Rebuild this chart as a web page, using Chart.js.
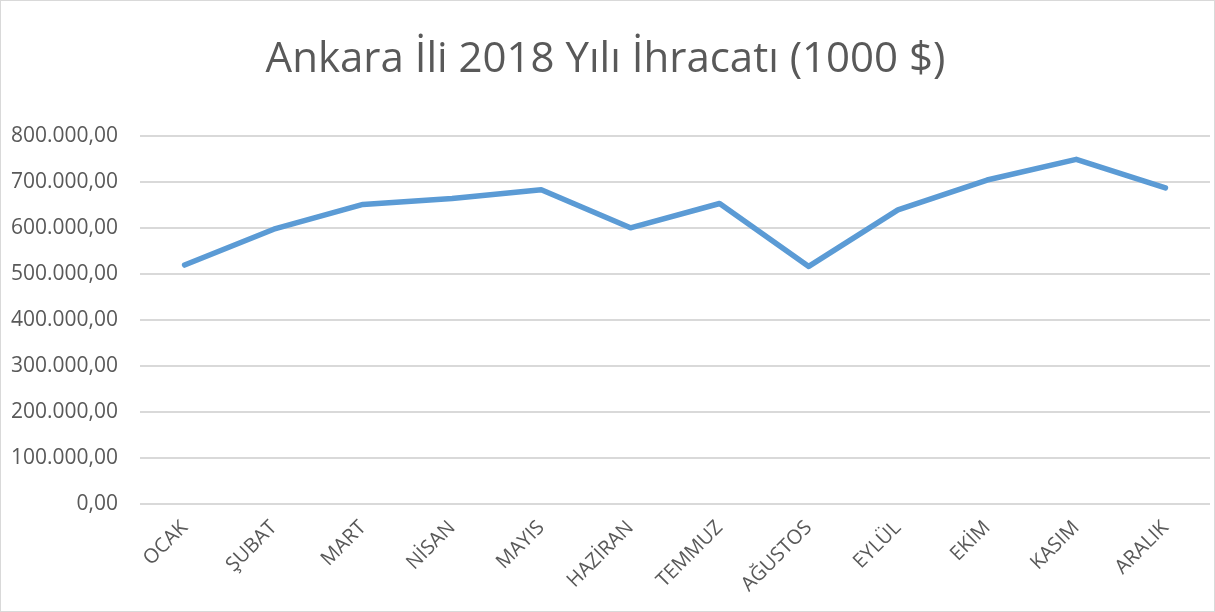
<!DOCTYPE html>
<html><head><meta charset="utf-8">
<script src="https://cdn.jsdelivr.net/npm/chart.js@4"></script>
<style>
html,body{margin:0;padding:0;background:#fff;}
#wrap{position:absolute;left:0;top:0;width:1213px;height:610px;border:1px solid #d9d9d9;}
canvas{display:block;}
</style></head>
<body><div id="wrap"><canvas id="c" width="1213" height="610"></canvas></div>
<script>
const titleText = 'Ankara İli 2018 Yılı İhracatı (1000 $)';
const categories = ['OCAK','ŞUBAT','MART','NİSAN','MAYIS','HAZİRAN','TEMMUZ','AĞUSTOS','EYLÜL','EKİM','KASIM','ARALIK'];
const exportValues = [520000, 598000, 652000, 665000, 684000, 601000, 654000, 517000, 640000, 705000, 750000, 688000];
const yMin = 0, yMax = 800000, yStep = 100000;

const fmt = v => v.toLocaleString('tr-TR', {minimumFractionDigits: 2, maximumFractionDigits: 2});
const FONT = '"Open Sans", "DejaVu Sans", sans-serif';

new Chart(document.getElementById('c'), {
  type: 'line',
  data: {
    labels: categories,
    datasets: [{
      data: exportValues,
      borderColor: '#5b9bd5',
      borderWidth: 5.5,
      borderCapStyle: 'round',
      borderJoinStyle: 'round',
      pointRadius: 0,
      pointHoverRadius: 0,
      tension: 0,
      fill: false
    }]
  },
  options: {
    responsive: false,
    animation: false,
    devicePixelRatio: 1,
    layout: { padding: { top: 0, left: 0, right: 4, bottom: 2 } },
    plugins: {
      legend: { display: false },
      tooltip: { enabled: false },
      title: {
        display: true,
        text: titleText,
        color: '#595959',
        font: { family: FONT, size: 42, weight: 'normal' },
        padding: { top: 34, bottom: 51 }
      }
    },
    scales: {
      x: {
        offset: true,
        grid: { display: false, drawTicks: false },
        border: { display: false },
        ticks: {
          color: '#595959',
          font: { family: FONT, size: 20 },
          minRotation: 45, maxRotation: 45,
          padding: 12,
          autoSkip: false
        },
        afterFit: s => { s.height = 105; }
      },
      y: {
        min: yMin, max: yMax,
        grid: { color: '#d9d9d9', lineWidth: 2, drawTicks: false },
        border: { display: false },
        ticks: {
          stepSize: yStep,
          color: '#595959',
          font: { family: FONT, size: 21 },
          padding: 22,
          callback: v => fmt(v)
        },
        afterFit: s => { s.width = 139; }
      }
    }
  }
});
</script></body></html>
